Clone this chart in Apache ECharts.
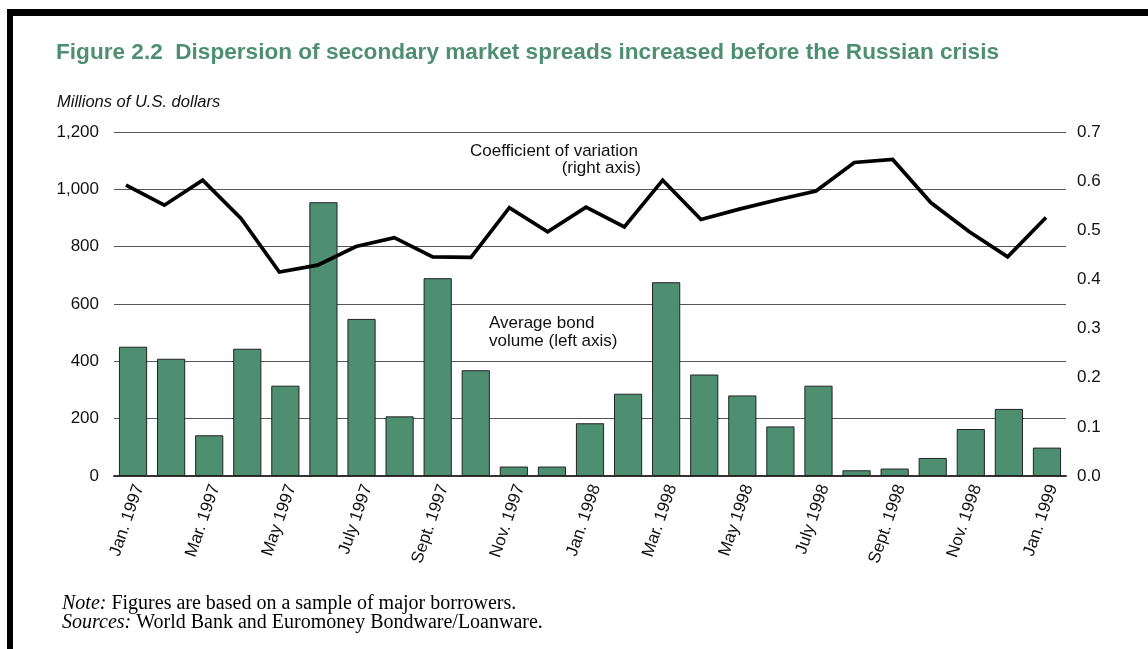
<!DOCTYPE html>
<html>
<head>
<meta charset="utf-8">
<script src="https://cdn.jsdelivr.net/npm/echarts@6/dist/echarts.min.js"></script>
<style>
  html, body { margin: 0; padding: 0; background: #fff; }
  #chart { width: 1148px; height: 649px; }
</style>
</head>
<body>
<div id="chart"></div>
<script>
// Monthly categories, Jan. 1997 – Jan. 1999
const months = [
  'Jan. 1997', 'Feb. 1997', 'Mar. 1997', 'Apr. 1997', 'May 1997', 'June 1997',
  'July 1997', 'Aug. 1997', 'Sept. 1997', 'Oct. 1997', 'Nov. 1997', 'Dec. 1997',
  'Jan. 1998', 'Feb. 1998', 'Mar. 1998', 'Apr. 1998', 'May 1998', 'June 1998',
  'July 1998', 'Aug. 1998', 'Sept. 1998', 'Oct. 1998', 'Nov. 1998', 'Dec. 1998',
  'Jan. 1999'
];

// Average bond volume, millions of U.S. dollars (left axis)
const bondVolume = [
  451, 409, 142, 444, 315, 955, 548, 208, 690, 369, 33, 33,
  184, 287, 676, 354, 281, 173, 315, 20, 26, 63, 164, 234, 99
];

// Coefficient of variation of secondary market spreads (right axis)
const coefVariation = [
  0.592, 0.551, 0.602, 0.524, 0.415, 0.429, 0.467, 0.485, 0.446, 0.445, 0.546, 0.497,
  0.547, 0.507, 0.602, 0.522, 0.543, 0.562, 0.580, 0.638, 0.644, 0.556, 0.497, 0.446,
  0.526
];

// Axis ticks
const leftTicks = [0, 200, 400, 600, 800, 1000, 1200];
const rightTicks = [0, 0.1, 0.2, 0.3, 0.4, 0.5, 0.6, 0.7];

const GREEN = '#4e8f72';
const SANS = 'Liberation Sans, Arial, sans-serif';
const SERIF = 'Liberation Serif, Times New Roman, serif';

const chart = echarts.init(document.getElementById('chart'), null, { renderer: 'canvas' });

const option = {
  backgroundColor: '#fff',
  animation: false,
  grid: [
    // bars and both value axes
    { left: 114, right: 82, top: 132, bottom: 173 },
    // coefficient line, drawn point-to-point across the months
    { left: 126, right: 102, top: 132, bottom: 173 },
    // month labels
    { left: 120, right: 76, top: 132, bottom: 173 }
  ],
  xAxis: [
    {
      type: 'category', gridIndex: 0, data: months,
      boundaryGap: true,
      axisLine: { show: true, lineStyle: { color: '#333', width: 2 } },
      axisTick: { show: false },
      axisLabel: { show: false }
    },
    {
      type: 'category', gridIndex: 1, data: months,
      boundaryGap: false, show: false
    },
    {
      type: 'category', gridIndex: 2, data: months,
      boundaryGap: true,
      axisLine: { show: false }, axisTick: { show: false },
      axisLabel: {
        interval: 1, rotate: 71, margin: 9,
        color: '#111', fontFamily: SANS, fontSize: 17
      }
    }
  ],
  yAxis: [
    {
      type: 'value', gridIndex: 0,
      min: leftTicks[0], max: leftTicks[leftTicks.length - 1], interval: 200,
      axisLine: { show: false }, axisTick: { show: false },
      axisLabel: {
        margin: 15, color: '#111', fontFamily: SANS, fontSize: 17,
        formatter: v => v.toLocaleString('en-US')
      },
      splitLine: { show: true, lineStyle: { color: '#555', width: 1 } }
    },
    {
      type: 'value', gridIndex: 0, position: 'right',
      min: rightTicks[0], max: rightTicks[rightTicks.length - 1], interval: 0.1,
      axisLine: { show: false }, axisTick: { show: false },
      axisLabel: {
        margin: 11, color: '#111', fontFamily: SANS, fontSize: 17,
        formatter: v => v.toFixed(1)
      },
      splitLine: { show: false }
    },
    {
      type: 'value', gridIndex: 1,
      min: rightTicks[0], max: rightTicks[rightTicks.length - 1],
      show: false, splitLine: { show: false }
    },
    {
      type: 'value', gridIndex: 2, show: false, splitLine: { show: false }
    }
  ],
  series: [
    {
      name: 'Average bond volume (left axis)',
      type: 'bar', xAxisIndex: 0, yAxisIndex: 0,
      data: bondVolume,
      barCategoryGap: '26%',
      itemStyle: { color: GREEN, borderColor: '#222', borderWidth: 1 }
    },
    {
      name: 'Coefficient of variation (right axis)',
      type: 'line', xAxisIndex: 1, yAxisIndex: 2,
      data: coefVariation,
      showSymbol: false, symbol: 'none',
      lineStyle: { color: '#000', width: 3.7, join: 'miter' },
      z: 5
    }
  ],
  graphic: [
    // frame rules
    { type: 'rect', shape: { x: 7, y: 9, width: 1141, height: 7 }, style: { fill: '#000' } },
    { type: 'rect', shape: { x: 7, y: 9, width: 6, height: 640 }, style: { fill: '#000' } },
    {
      type: 'text', left: 56, top: 41,
      style: {
        text: 'Figure 2.2  Dispersion of secondary market spreads increased before the Russian crisis',
        fill: GREEN, font: 'bold 22.6px ' + SANS
      }
    },
    {
      type: 'text', left: 57, top: 94,
      style: { text: 'Millions of U.S. dollars', fill: '#111', font: 'italic 16.5px ' + SANS }
    },
    {
      type: 'text', left: 470, top: 143,
      style: { text: 'Coefficient of variation', fill: '#111', font: '17px ' + SANS }
    },
    {
      type: 'text', right: 507, top: 160,
      style: { text: '(right axis)', fill: '#111', font: '17px ' + SANS }
    },
    {
      type: 'text', left: 489, top: 314,
      style: {
        text: 'Average bond\nvolume (left axis)', fill: '#111',
        font: '17px ' + SANS, lineHeight: 18
      }
    },
    {
      type: 'text', left: 62, top: 594,
      style: {
        rich: {
          i: { fontFamily: SERIF, fontStyle: 'italic', fontSize: 20, color: '#111' },
          n: { fontFamily: SERIF, fontSize: 20, color: '#111' }
        },
        text: '{i|Note:}{n| Figures are based on a sample of major borrowers.}\n{i|Sources:}{n| World Bank and Euromoney Bondware/Loanware.}',
        lineHeight: 19
      }
    }
  ]
};

chart.setOption(option);
</script>
</body>
</html>
